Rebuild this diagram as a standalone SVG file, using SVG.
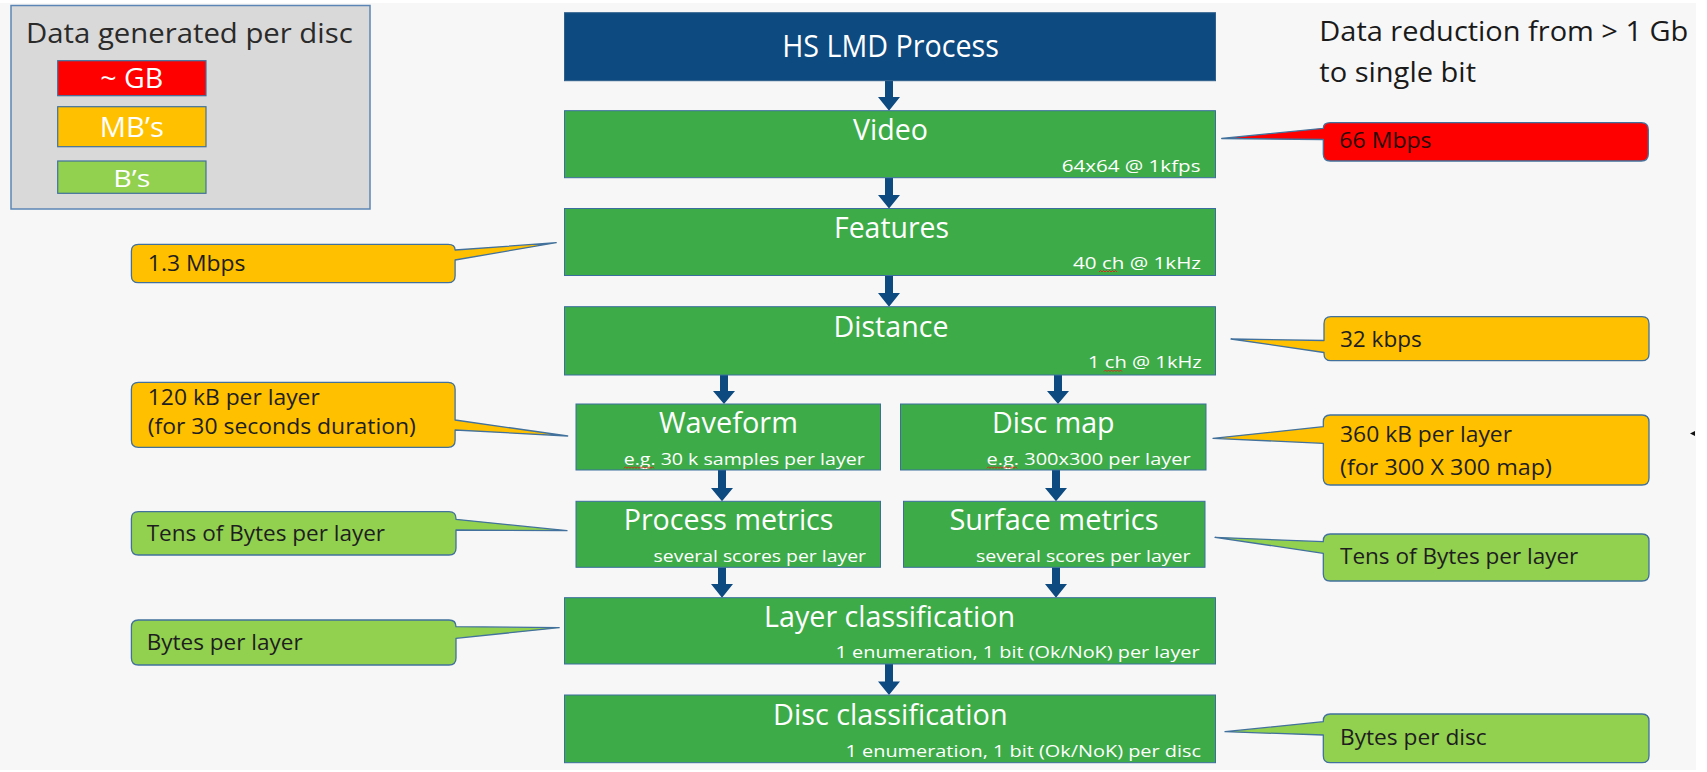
<svg xmlns="http://www.w3.org/2000/svg" width="1707" height="772" viewBox="0 0 1707 772">
  <style>
    text { font-family: "Open Sans", "Liberation Sans", sans-serif; }
    .bg { fill: #f7f7f7; }
    .legend { fill: #d9d9d9; stroke: #5b85b5; stroke-width: 1.5; }
    .swatch { stroke: #41719c; stroke-width: 1.2; }
    .red { fill: #ff0000; }
    .orange { fill: #ffc000; }
    .lime { fill: #92d050; }
    .head { fill: #0d4a80; stroke: #2f5f8a; stroke-width: 1; }
    .step { fill: #3dab48; stroke: #3b6e9e; stroke-width: 1; }
    .lbl { fill: #ffffff; font-size: 29px; text-anchor: middle; }
    .sub { fill: #ffffff; font-size: 16px; text-anchor: end; }
    .call { stroke: #41719c; stroke-width: 1.3; stroke-linejoin: round; }
    .ctext { fill: #1e1e1e; font-size: 22.5px; }
    .ctext2 { fill: #1e1e1e; font-size: 21.5px; }
    .title { fill: #2a2a2a; font-size: 28px; }
    .swtext { fill: #ffffff; font-size: 28px; text-anchor: middle; }
    .arrow { fill: #0d4a80; }
    .squiggle { fill: none; stroke: #e0201a; stroke-width: 0.9; }
  </style>

  <rect class="bg" x="0" y="3" width="1696" height="767"/>

  <!-- legend -->
  <g id="legend">
    <rect class="legend" x="11" y="5.5" width="359" height="203.5"/>
    <text class="title" x="26" y="42.7" textLength="326.7" lengthAdjust="spacingAndGlyphs">Data generated per disc</text>
    <rect class="swatch red" x="57.7" y="60.7" width="148.3" height="35"/>
    <text class="swtext" x="131.8" y="88.3" textLength="63" lengthAdjust="spacingAndGlyphs">~ GB</text>
    <rect class="swatch orange" x="57.7" y="106.7" width="148.3" height="40"/>
    <text class="swtext" x="131.8" y="136.7" textLength="64" lengthAdjust="spacingAndGlyphs">MB’s</text>
    <rect class="swatch lime" x="57.7" y="161" width="148.3" height="32.3"/>
    <text class="swtext" x="131.8" y="186.7" style="font-size:24px" textLength="37" lengthAdjust="spacingAndGlyphs">B’s</text>
  </g>

  <!-- heading on the right -->
  <g id="reduction-note">
    <text class="title" x="1319.3" y="40.7" style="fill:#1a1a1a" textLength="369" lengthAdjust="spacingAndGlyphs">Data reduction from &gt; 1 Gb</text>
    <text class="title" x="1319.3" y="81.7" style="fill:#1a1a1a" textLength="156.7" lengthAdjust="spacingAndGlyphs">to single bit</text>
  </g>

  <!-- flow connectors -->
  <g id="connectors">
    <path class="arrow" d="M885,80.7 H893 V97 H900 L889,110.7 L878,97 H885 Z"/>
    <path class="arrow" d="M885,177.7 H893 V195 H900 L889,208.5 L878,195 H885 Z"/>
    <path class="arrow" d="M885,275.5 H893 V293 H900 L889,306.7 L878,293 H885 Z"/>
    <path class="arrow" d="M720,375 H728 V391 H735 L724,404 L713,391 H720 Z"/>
    <path class="arrow" d="M1054,375 H1062 V391 H1069 L1058,404 L1047,391 H1054 Z"/>
    <path class="arrow" d="M718,470 H726 V488 H733 L722,501.3 L711,488 H718 Z"/>
    <path class="arrow" d="M1052,470 H1060 V488 H1067 L1056,501.3 L1045,488 H1052 Z"/>
    <path class="arrow" d="M718,567.3 H726 V584 H733 L722,597.7 L711,584 H718 Z"/>
    <path class="arrow" d="M1052,567.3 H1060 V584 H1067 L1056,597.7 L1045,584 H1052 Z"/>
    <path class="arrow" d="M885,664 H893 V681.5 H900 L889,695 L878,681.5 H885 Z"/>
  </g>

  <!-- process steps -->
  <g id="hs-lmd-process">
    <rect class="head" x="564.5" y="12.7" width="651" height="68"/>
    <text class="lbl" x="890.5" y="57.3" style="font-size:31px" textLength="216.7" lengthAdjust="spacingAndGlyphs">HS LMD Process</text>
  </g>
  <g id="video">
    <rect class="step" x="564.5" y="110.7" width="651" height="67"/>
    <text class="lbl" x="890.5" y="140" textLength="75" lengthAdjust="spacingAndGlyphs">Video</text>
    <text class="sub" x="1200.5" y="171.7" textLength="138.8" lengthAdjust="spacingAndGlyphs">64x64 @ 1kfps</text>
  </g>
  <g id="features">
    <rect class="step" x="564.5" y="208.5" width="651" height="67"/>
    <text class="lbl" x="891.5" y="238" textLength="115" lengthAdjust="spacingAndGlyphs">Features</text>
    <text class="sub" x="1201" y="269" textLength="128" lengthAdjust="spacingAndGlyphs">40 ch @ 1kHz</text>
    <path class="squiggle" d="M1099,272 l1.5,-1.5 l1.5,1.5 l1.5,-1.5 l1.5,1.5 l1.5,-1.5 l1.5,1.5 l1.5,-1.5 l1.5,1.5 l1.5,-1.5 l1.5,1.5 l1.5,-1.5 l1.5,1.5"/>
  </g>
  <g id="distance">
    <rect class="step" x="564.5" y="306.7" width="651" height="68.3"/>
    <text class="lbl" x="891" y="336.7" textLength="115" lengthAdjust="spacingAndGlyphs">Distance</text>
    <text class="sub" x="1201.8" y="368.3" textLength="113.8" lengthAdjust="spacingAndGlyphs">1 ch @ 1kHz</text>
    <path class="squiggle" d="M1104,371.5 l1.5,-1.5 l1.5,1.5 l1.5,-1.5 l1.5,1.5 l1.5,-1.5 l1.5,1.5 l1.5,-1.5 l1.5,1.5 l1.5,-1.5 l1.5,1.5 l1.5,-1.5 l1.5,1.5"/>
  </g>
  <g id="waveform">
    <rect class="step" x="576" y="404" width="304.5" height="66"/>
    <text class="lbl" x="728.4" y="433.3" textLength="139" lengthAdjust="spacingAndGlyphs">Waveform</text>
    <text class="sub" x="864.7" y="465" textLength="241" lengthAdjust="spacingAndGlyphs">e.g. 30 k samples per layer</text>
    <path class="squiggle" d="M624,468.3 l1.5,-1.5 l1.5,1.5 l1.5,-1.5 l1.5,1.5 l1.5,-1.5 l1.5,1.5 l1.5,-1.5 l1.5,1.5 l1.5,-1.5 l1.5,1.5 l1.5,-1.5 l1.5,1.5 l1.5,-1.5 l1.5,1.5 l1.5,-1.5 l1.5,1.5 l1.5,-1.5 l1.5,1.5 l1.5,-1.5 l1.5,1.5"/>
  </g>
  <g id="disc-map">
    <rect class="step" x="900.5" y="404" width="305.5" height="66"/>
    <text class="lbl" x="1053.3" y="433.3" textLength="122.7" lengthAdjust="spacingAndGlyphs">Disc map</text>
    <text class="sub" x="1190.6" y="465" textLength="204" lengthAdjust="spacingAndGlyphs">e.g. 300x300 per layer</text>
    <path class="squiggle" d="M987,468.3 l1.5,-1.5 l1.5,1.5 l1.5,-1.5 l1.5,1.5 l1.5,-1.5 l1.5,1.5 l1.5,-1.5 l1.5,1.5 l1.5,-1.5 l1.5,1.5 l1.5,-1.5 l1.5,1.5 l1.5,-1.5 l1.5,1.5 l1.5,-1.5 l1.5,1.5 l1.5,-1.5 l1.5,1.5 l1.5,-1.5 l1.5,1.5"/>
  </g>
  <g id="process-metrics">
    <rect class="step" x="576" y="501.3" width="304.5" height="66"/>
    <text class="lbl" x="728.6" y="530" textLength="209.8" lengthAdjust="spacingAndGlyphs">Process metrics</text>
    <text class="sub" x="866" y="561.7" textLength="212.4" lengthAdjust="spacingAndGlyphs">several scores per layer</text>
  </g>
  <g id="surface-metrics">
    <rect class="step" x="903.5" y="501.3" width="301.5" height="66"/>
    <text class="lbl" x="1054" y="530" textLength="209" lengthAdjust="spacingAndGlyphs">Surface metrics</text>
    <text class="sub" x="1190.6" y="561.7" textLength="214.6" lengthAdjust="spacingAndGlyphs">several scores per layer</text>
  </g>
  <g id="layer-classification">
    <rect class="step" x="564.5" y="597.7" width="651" height="66.3"/>
    <text class="lbl" x="889.5" y="626.7" textLength="251" lengthAdjust="spacingAndGlyphs">Layer classification</text>
    <text class="sub" x="1199.6" y="658.3" textLength="364" lengthAdjust="spacingAndGlyphs">1 enumeration, 1 bit (Ok/NoK) per layer</text>
  </g>
  <g id="disc-classification">
    <rect class="step" x="564.5" y="695" width="651" height="67.7"/>
    <text class="lbl" x="890.3" y="725" textLength="234.6" lengthAdjust="spacingAndGlyphs">Disc classification</text>
    <text class="sub" x="1201" y="756.7" textLength="355.5" lengthAdjust="spacingAndGlyphs">1 enumeration, 1 bit (Ok/NoK) per disc</text>
  </g>

  <!-- data-volume callouts, right side -->
  <g id="callout-66mbps">
    <path class="call red" d="M1330.3,122.7 H1641.3 Q1648.3,122.7 1648.3,129.7 V154 Q1648.3,161 1641.3,161 H1330.3 Q1323.3,161 1323.3,154 V139.5 L1221.7,138.5 L1323.3,128.3 Q1323.3,122.7 1330.3,122.7 Z"/>
    <text class="ctext" x="1339.3" y="148.3" style="fill:#2a0a0a" textLength="92.3" lengthAdjust="spacingAndGlyphs">66 Mbps</text>
  </g>
  <g id="callout-32kbps">
    <path class="call orange" d="M1331,316.7 H1642 Q1649,316.7 1649,323.7 V353.7 Q1649,360.7 1642,360.7 H1331 Q1324,360.7 1324,353.7 V352.5 L1231,339 L1324,340.5 V323.7 Q1324,316.7 1331,316.7 Z"/>
    <text class="ctext" x="1340" y="346.7" textLength="81.7" lengthAdjust="spacingAndGlyphs">32 kbps</text>
  </g>
  <g id="callout-360kb">
    <path class="call orange" d="M1330.3,415 H1642 Q1649,415 1649,422 V478 Q1649,485 1642,485 H1330.3 Q1323.3,485 1323.3,478 V443.3 L1213,438.3 L1323.3,426.7 V422 Q1323.3,415 1330.3,415 Z"/>
    <text class="ctext2" x="1340" y="441.7" textLength="172" lengthAdjust="spacingAndGlyphs">360 kB per layer</text>
    <text class="ctext2" x="1340" y="475" textLength="212" lengthAdjust="spacingAndGlyphs">(for 300 X 300 map)</text>
  </g>
  <g id="callout-tens-right">
    <path class="call lime" d="M1330.3,534 H1642 Q1649,534 1649,541 V574 Q1649,581 1642,581 H1330.3 Q1323.3,581 1323.3,574 V553.3 L1215,537.3 L1323.3,541.7 V541 Q1323.3,534 1330.3,534 Z"/>
    <text class="ctext" x="1340" y="564.3" textLength="238.3" lengthAdjust="spacingAndGlyphs">Tens of Bytes per layer</text>
  </g>
  <g id="callout-bytes-disc">
    <path class="call lime" d="M1330.3,714 H1642 Q1649,714 1649,721 V755.7 Q1649,762.7 1642,762.7 H1330.3 Q1323.3,762.7 1323.3,755.7 V735 L1225,731.7 L1323.3,721.7 V721 Q1323.3,714 1330.3,714 Z"/>
    <text class="ctext" x="1340" y="745" textLength="146.7" lengthAdjust="spacingAndGlyphs">Bytes per disc</text>
  </g>

  <!-- data-volume callouts, left side -->
  <g id="callout-1-3mbps">
    <path class="call orange" d="M138.4,244.3 H448.1 Q455.1,244.3 455.1,250 L556.2,242.7 L455.1,260 V275.7 Q455.1,282.7 448.1,282.7 H138.4 Q131.4,282.7 131.4,275.7 V251.3 Q131.4,244.3 138.4,244.3 Z"/>
    <text class="ctext" x="147.8" y="270.7" textLength="97.6" lengthAdjust="spacingAndGlyphs">1.3 Mbps</text>
  </g>
  <g id="callout-120kb">
    <path class="call orange" d="M138.4,382.3 H448.1 Q455.1,382.3 455.1,389.3 V420 L567.7,436 L455.1,430 V440.3 Q455.1,447.3 448.1,447.3 H138.4 Q131.4,447.3 131.4,440.3 V389.3 Q131.4,382.3 138.4,382.3 Z"/>
    <text class="ctext2" x="147.8" y="405" textLength="172" lengthAdjust="spacingAndGlyphs">120 kB per layer</text>
    <text class="ctext2" x="147.8" y="433.5" textLength="268" lengthAdjust="spacingAndGlyphs">(for 30 seconds duration)</text>
  </g>
  <g id="callout-tens-left">
    <path class="call lime" d="M138.4,511.7 H449 Q456,511.7 456,518.7 V519.3 L567,530.7 L456,530 V548 Q456,555 449,555 H138.4 Q131.4,555 131.4,548 V518.7 Q131.4,511.7 138.4,511.7 Z"/>
    <text class="ctext" x="146.7" y="541" textLength="238.4" lengthAdjust="spacingAndGlyphs">Tens of Bytes per layer</text>
  </g>
  <g id="callout-bytes-layer">
    <path class="call lime" d="M138.4,620 H449 Q456,620 456,626.7 L559.2,627.7 L456,638.3 V658 Q456,665 449,665 H138.4 Q131.4,665 131.4,658 V627 Q131.4,620 138.4,620 Z"/>
    <text class="ctext" x="146.7" y="650" textLength="156" lengthAdjust="spacingAndGlyphs">Bytes per layer</text>
  </g>

  <!-- small pointer mark at the right margin -->
  <path d="M1690,433.5 L1695,431 L1695,436 Z" fill="#111111"/>
</svg>
